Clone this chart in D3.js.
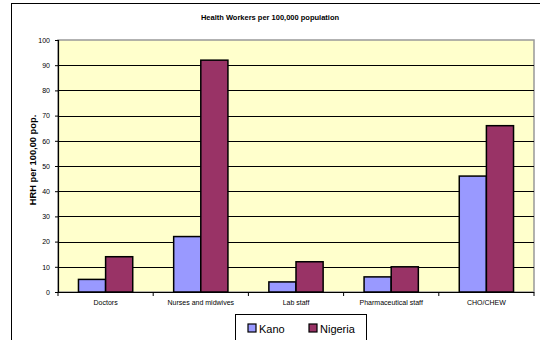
<!DOCTYPE html>
<html><head><meta charset="utf-8">
<script src="https://cdn.jsdelivr.net/npm/d3@7"></script>
<style>body{margin:0;background:#fff}svg{display:block;font-family:"Liberation Sans",Arial,sans-serif}</style>
</head><body><svg id="c" width="540" height="340"></svg>
<script>
const categories = ["Doctors","Nurses and midwives","Lab staff","Pharmaceutical staff","CHO/CHEW"];
const seriesNames = ["Kano","Nigeria"];
const kano = [5,22,4,6,46];
const nigeria = [14,92,12,10,66];
const yTicks = [0,10,20,30,40,50,60,70,80,90,100];
const colors = ["#9999FF","#993366"];

const svg = d3.select("#c");
// outer frame
svg.append("rect").attr("x",11.5).attr("y",3.5).attr("width",540).attr("height",345)
  .attr("fill","#fff").attr("stroke","#000").attr("stroke-width",1);

const L=58, R=534, T=40, B=292;
const x0 = d3.scaleBand().domain(categories).range([L,R]).paddingInner(0.43).paddingOuter(0.215);
const x1 = d3.scaleBand().domain(seriesNames).range([0,x0.bandwidth()]);
const y = d3.scaleLinear().domain([0,100]).range([B,T]);

svg.append("rect").attr("x",L).attr("y",T).attr("width",R-L).attr("height",B-T).attr("fill","#FFFFCC")
  .attr("stroke","#999").attr("stroke-width",1.5);

// gridlines
svg.append("g").selectAll("line").data(yTicks.filter(d=>d>0&&d<100)).join("line")
  .attr("x1",L).attr("x2",R).attr("y1",d=>Math.round(y(d))+0.5).attr("y2",d=>Math.round(y(d))+0.5)
  .attr("stroke","#000").attr("stroke-width",1);

// bars
const data = categories.map((c,i)=>({c, vals:[kano[i],nigeria[i]]}));
svg.append("g").selectAll("g").data(data).join("g")
  .attr("transform",d=>`translate(${x0(d.c)},0)`)
  .selectAll("rect").data(d=>d.vals.map((v,j)=>({v,s:seriesNames[j],j}))).join("rect")
  .attr("x",d=>x1(d.s)).attr("y",d=>y(d.v)).attr("width",x1.bandwidth()).attr("height",d=>B-y(d.v))
  .attr("fill",d=>colors[d.j]).attr("stroke","#000").attr("stroke-width",1.5);

// y axis
const ya = svg.append("g").attr("transform",`translate(${L},0)`)
  .call(d3.axisLeft(y).tickValues(yTicks).tickSize(3).tickPadding(5));
ya.select(".domain").attr("stroke","#000").attr("stroke-width",1.2);
ya.selectAll("text").attr("font-size",7).attr("font-family","Liberation Sans, Arial, sans-serif").attr("fill","#000");

// x axis
const xa = svg.append("g").attr("transform",`translate(0,${B})`);
xa.append("line").attr("x1",L).attr("x2",R).attr("y1",0.5).attr("y2",0.5).attr("stroke","#000").attr("stroke-width",1.2);
const step = (R-L)/categories.length;
xa.selectAll("line.t").data(d3.range(categories.length+1)).join("line").attr("class","t")
  .attr("x1",i=>L+i*step).attr("x2",i=>L+i*step).attr("y1",0).attr("y2",4).attr("stroke","#000");
xa.selectAll("text").data(categories).join("text")
  .attr("x",d=>x0(d)+x0.bandwidth()/2).attr("y",13).attr("text-anchor","middle")
  .attr("font-size",7).attr("fill","#000").text(d=>d);

// title
svg.append("text").attr("x",270).attr("y",20).attr("text-anchor","middle").attr("font-size",7.5)
  .attr("font-weight","bold").text("Health Workers per 100,000 population");
// y label
svg.append("text").attr("transform","translate(35.5,160) rotate(-90)").attr("text-anchor","middle")
  .attr("font-size",9.3).attr("font-weight","bold").text("HRH per 100,00 pop.");

// legend
const lg = svg.append("g");
lg.append("rect").attr("x",235.5).attr("y",314.5).attr("width",131).attr("height",40).attr("fill","#fff").attr("stroke","#000");
const lx = [248,309];
seriesNames.forEach((s,i)=>{
  lg.append("rect").attr("x",lx[i]).attr("y",324).attr("width",8).attr("height",8).attr("fill",colors[i]).attr("stroke","#000").attr("stroke-width",1.2);
  lg.append("text").attr("x",lx[i]+11).attr("y",332.5).attr("font-size",11).text(s);
});
</script></body></html>
